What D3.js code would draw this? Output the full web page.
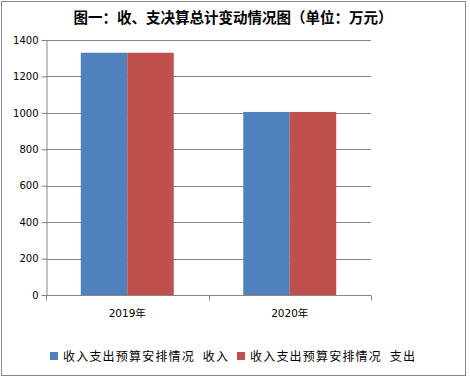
<!DOCTYPE html>
<html>
<head>
<meta charset="utf-8">
<script src="https://cdn.jsdelivr.net/npm/d3@7"></script>
<style>
body { margin: 0; background: #fff; }
text { font-family: "DejaVu Sans", "Noto Sans CJK SC", sans-serif; fill: #000; }
</style>
</head>
<body>
<div class="chart"></div>
<script>
var years = ["2019年", "2020年"]
var seriesNames = ["收入支出预算安排情况  收入", "收入支出预算安排情况  支出"]
var income = [1330, 1005]
var expense = [1330, 1005]
var yTicks = [0, 200, 400, 600, 800, 1000, 1200, 1400]
var colors = ["#4F81BD", "#C0504D"]

var width = 470;
var height = 377;
var plotLeft = 46, plotRight = 371, plotTop = 40, plotBottom = 295;

var svg = d3.select(".chart")
    .append("svg")
    .attr("width", width)
    .attr("height", height)

svg.append("rect")
    .attr("x", 1.5)
    .attr("y", 1.5)
    .attr("width", 464)
    .attr("height", 374)
    .attr("fill", "#fff")
    .attr("stroke", "#868686")

var x0 = d3.scaleBand()
    .domain(years)
    .range([plotLeft, plotRight])
    .paddingInner(0.428)
    .paddingOuter(0.214)

var x1 = d3.scaleBand()
    .domain([0, 1])
    .range([0, x0.bandwidth()])

var y = d3.scaleLinear()
    .domain([0, 1400])
    .range([plotBottom, plotTop])

// gridlines
svg.selectAll(".grid")
    .data(yTicks.slice(1))
    .enter().append("line")
    .attr("x1", plotLeft)
    .attr("x2", plotRight)
    .attr("y1", function(d) { return Math.round(y(d)) + 0.5; })
    .attr("y2", function(d) { return Math.round(y(d)) + 0.5; })
    .attr("stroke", "#868686")

var rows = years.map(function(yr, i) {
    return { year: yr, values: [income[i], expense[i]] };
});

var groups = svg.selectAll(".group")
    .data(rows)
    .enter().append("g")
    .attr("transform", function(d) { return "translate(" + x0(d.year) + ",0)"; })

groups.selectAll("rect")
    .data(function(d) { return d.values; })
    .enter().append("rect")
    .attr("x", function(d, i) { return x1(i); })
    .attr("y", function(d) { return y(d); })
    .attr("width", x1.bandwidth())
    .attr("height", function(d) { return plotBottom - y(d); })
    .attr("fill", function(d, i) { return colors[i]; })

// y axis
var yAxis = svg.append("g")
    .attr("transform", "translate(" + (plotLeft + 0.5) + ",0)")
    .call(d3.axisLeft(y).tickValues(yTicks).tickFormat(d3.format("d")).tickSize(5).tickSizeOuter(0).tickPadding(3))
yAxis.selectAll("line").attr("stroke", "#868686")
yAxis.select(".domain").attr("stroke", "#868686")
yAxis.selectAll("text").style("font-size", "10px")

// x axis
var xAxis = svg.append("g")
    .attr("transform", "translate(0," + (plotBottom + 0.5) + ")")
xAxis.append("line")
    .attr("x1", plotLeft)
    .attr("x2", plotRight)
    .attr("stroke", "#868686")
xAxis.selectAll(".xtick")
    .data([plotLeft, x0.step() + plotLeft, plotRight])
    .enter().append("line")
    .attr("x1", function(d) { return Math.round(d) + 0.5; })
    .attr("x2", function(d) { return Math.round(d) + 0.5; })
    .attr("y1", 0)
    .attr("y2", 5)
    .attr("stroke", "#868686")
xAxis.selectAll(".xlabel")
    .data(years)
    .enter().append("text")
    .attr("x", function(d) { return x0(d) + x0.bandwidth() / 2; })
    .attr("y", 21)
    .style("text-anchor", "middle")
    .style("font-size", "10.5px")
    .text(function(d) { return d; })

// title
svg.append("text")
    .attr("x", 233)
    .attr("y", 23)
    .style("text-anchor", "middle")
    .style("font-family", "'Noto Sans CJK SC', sans-serif")
    .style("font-weight", "bold")
    .style("font-size", "14.5px")
    .text("图一：收、支决算总计变动情况图（单位：万元）")

// legend
var legendX = [50, 237];
var legend = svg.selectAll(".legend")
    .data(seriesNames)
    .enter().append("g")
    .attr("transform", function(d, i) { return "translate(" + legendX[i] + ",352)"; })
legend.append("rect")
    .attr("width", 8)
    .attr("height", 8)
    .attr("fill", function(d, i) { return colors[i]; })
legend.append("text")
    .attr("x", 13)
    .attr("y", 9)
    .style("font-family", "'Noto Sans CJK SC', sans-serif")
    .style("font-size", "12px")
    .style("letter-spacing", "1.2px")
    .style("white-space", "pre")
    .text(function(d) { return d; })
</script>
</body>
</html>
